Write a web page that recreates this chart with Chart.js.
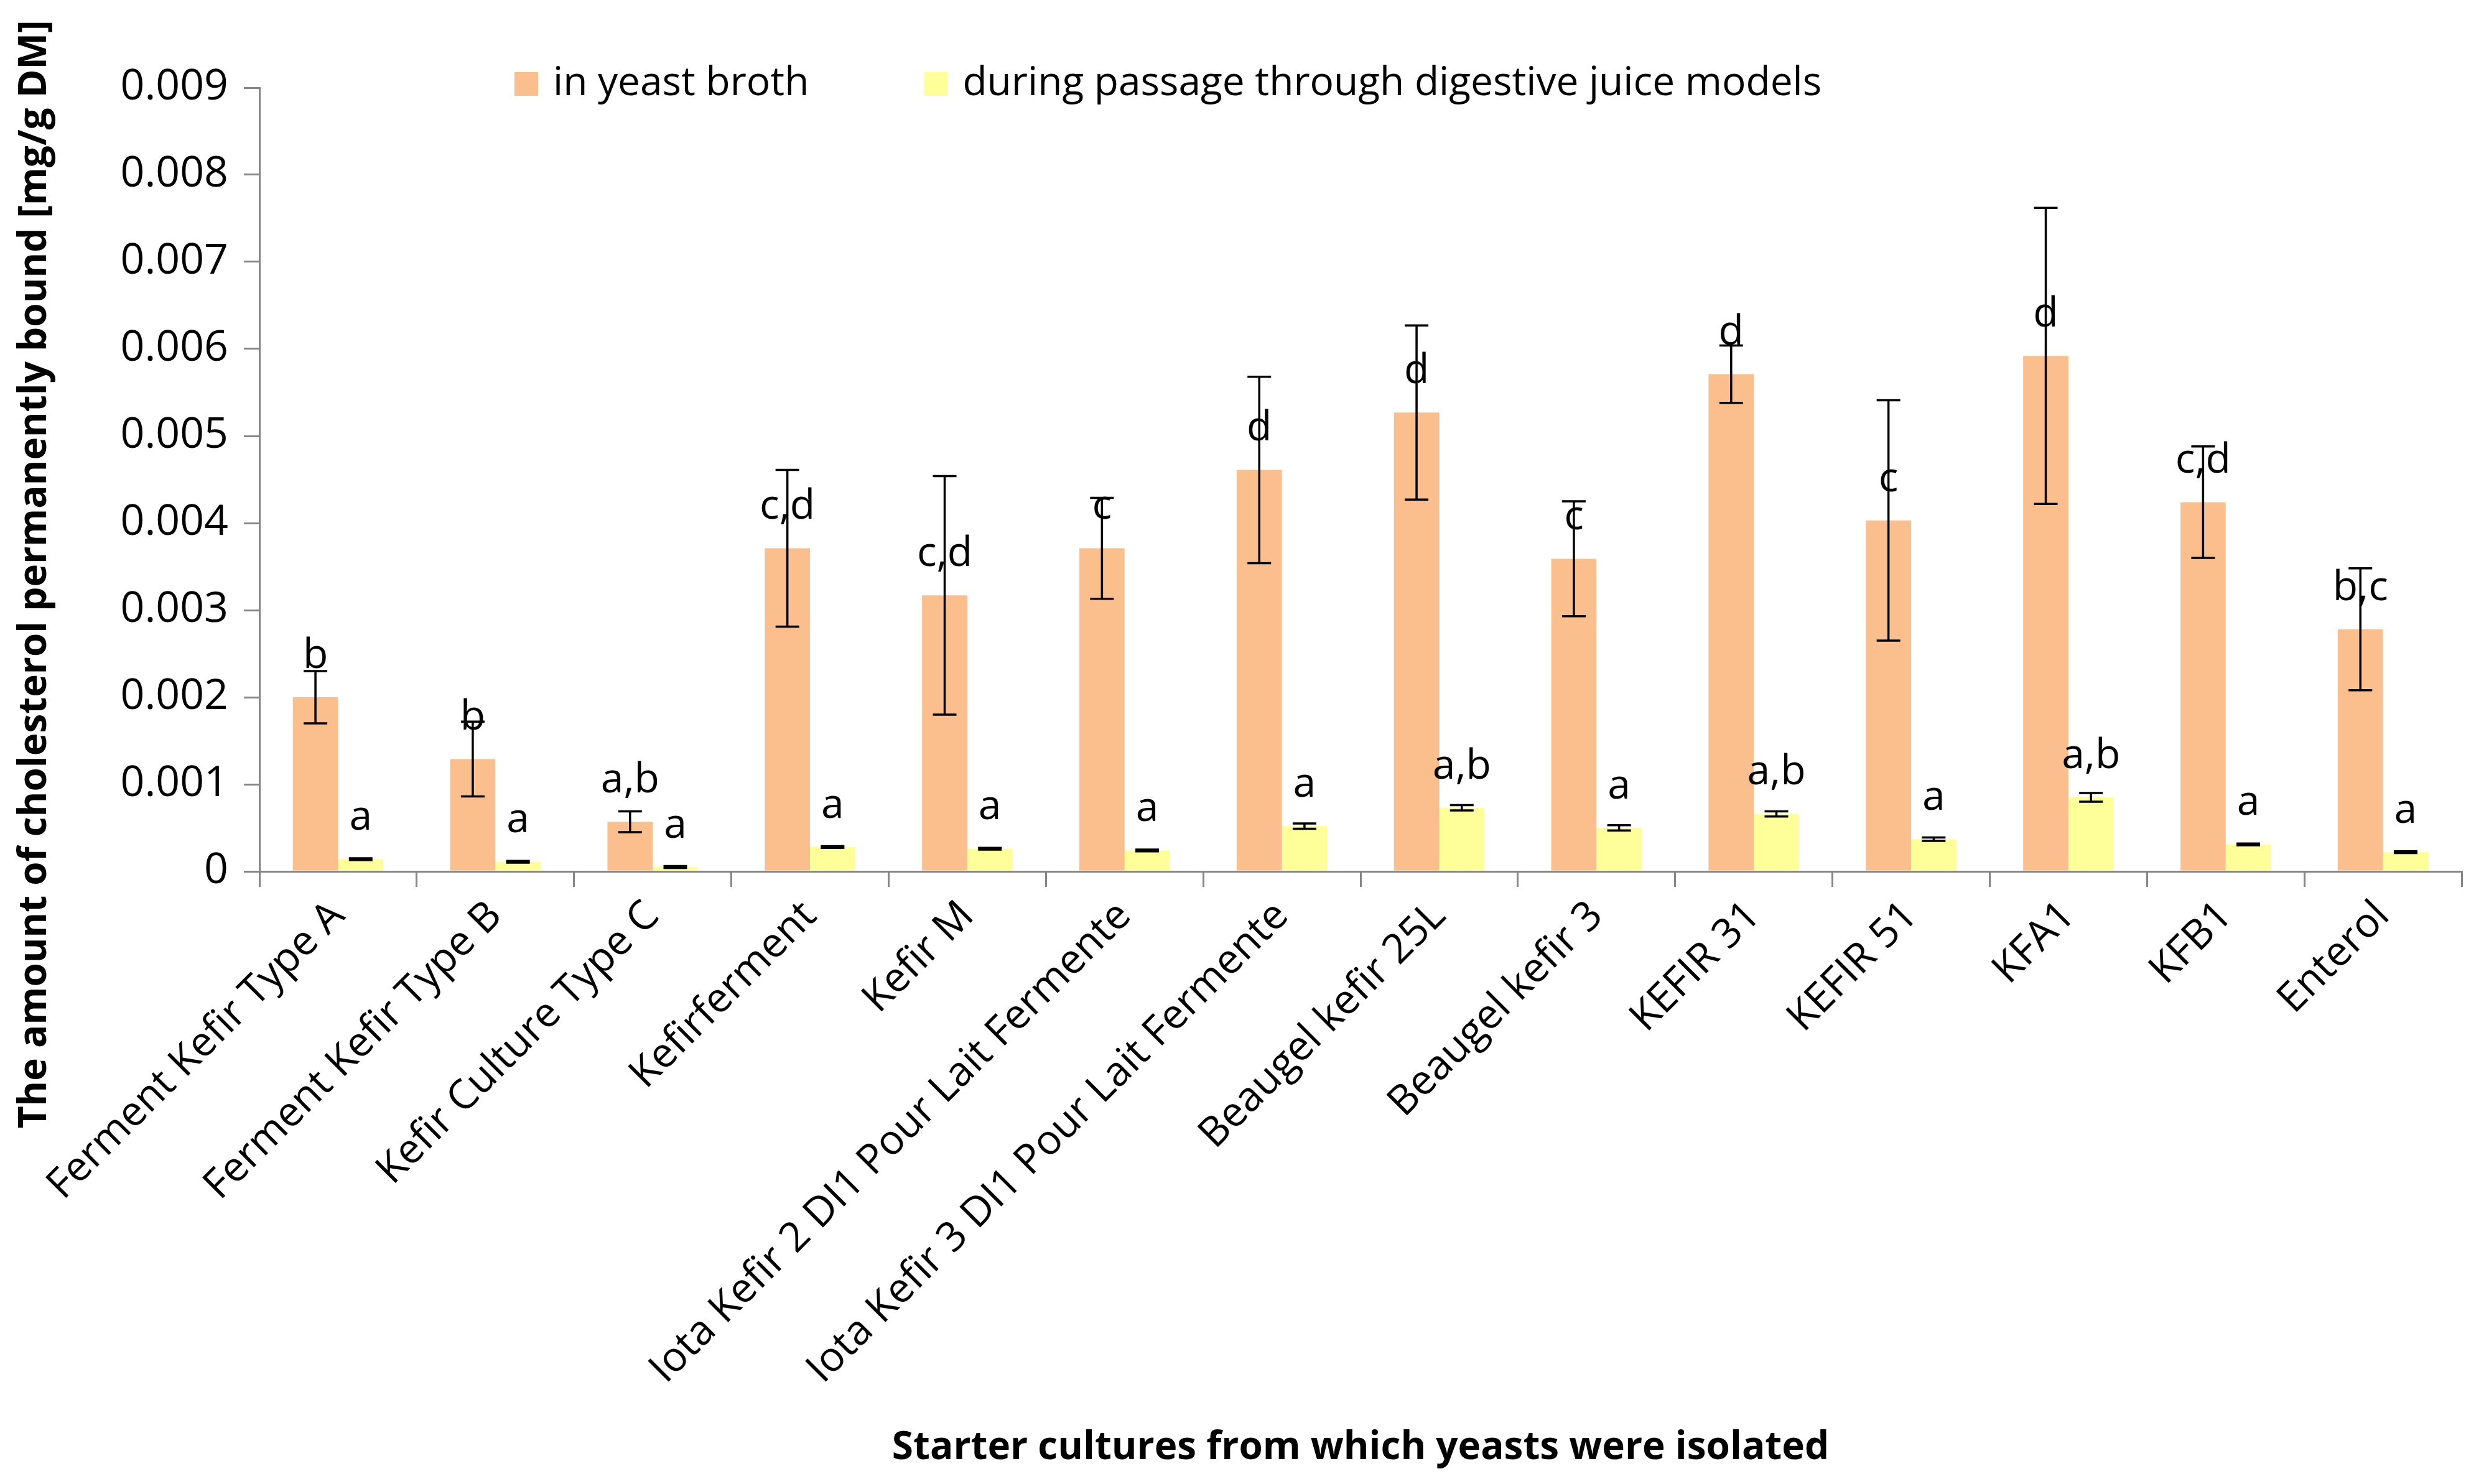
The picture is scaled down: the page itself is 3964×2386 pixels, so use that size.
<!DOCTYPE html>
<html>
<head>
<meta charset="utf-8">
<title>Cholesterol bound by kefir yeasts</title>
<script src="https://cdn.jsdelivr.net/npm/chart.js@4.4.1/dist/chart.umd.min.js"></script>
<style>
  html, body { margin: 0; padding: 0; background: #fff; }
  canvas { display: block; }
</style>
</head>
<body>
<canvas id="yeastChart" width="3964" height="2386"></canvas>
<script>
// ---------------- DATA ----------------
const categories = [
  "Ferment Kefir Type A", "Ferment Kefir Type B", "Kefir Culture Type C", "Kefirferment",
  "Kefir M", "Iota Kefir 2 DI1 Pour Lait Fermente", "Iota Kefir 3 DI1 Pour Lait Fermente",
  "Beaugel kefir 25L", "Beaugel kefir 3", "KEFIR 31", "KEFIR 51", "KFA1", "KFB1", "Enterol"
];

const seriesNames = ["in yeast broth", "during passage through digestive juice models"];

const brothValues = [0.00200, 0.00129, 0.00057, 0.00371, 0.00317, 0.00371, 0.00461,
                     0.00527, 0.00359, 0.00571, 0.00403, 0.00592, 0.00424, 0.00278];
const brothErrors = [0.00030, 0.00043, 0.00012, 0.00090, 0.00137, 0.00058, 0.00107,
                     0.00100, 0.00066, 0.00033, 0.00138, 0.00170, 0.00064, 0.00070];
const brothLetters = ["b", "b", "a,b", "c,d", "c,d", "c", "d", "d", "c", "d", "c", "d", "c,d", "b,c"];

const juiceValues = [0.00014, 0.00011, 0.00005, 0.00028, 0.00026, 0.00024, 0.00052,
                     0.00073, 0.00050, 0.00066, 0.00037, 0.00085, 0.00031, 0.00022];
const juiceErrors = [0.00001, 0.00001, 0.00001, 0.00001, 0.00001, 0.00001, 0.00003,
                     0.00003, 0.00003, 0.00003, 0.00002, 0.00005, 0.00001, 0.00001];
const juiceLetters = ["a", "a", "a", "a", "a", "a", "a", "a,b", "a", "a,b", "a", "a,b", "a", "a"];

const yTickLabels = ["0", "0.001", "0.002", "0.003", "0.004", "0.005", "0.006", "0.007", "0.008", "0.009"];

const xTitle = "Starter cultures from which yeasts were isolated";
const yTitle = "The amount of cholesterol permanently bound [mg/g DM]";

const errorSets = [brothErrors, juiceErrors];
const letterSets = [brothLetters, juiceLetters];

// ---------------- STYLE ----------------
const FONT = "'Open Sans', sans-serif";
const AXIS_GREY = "#868686";
Chart.defaults.font.family = FONT;
Chart.defaults.font.size = 66;
Chart.defaults.color = "#000";

// error bars + letters above each bar
const annotatePlugin = {
  id: "annotate",
  afterDatasetsDraw(chart) {
    const { ctx } = chart;
    const y = chart.scales.y;
    ctx.save();
    chart.data.datasets.forEach((ds, di) => {
      const meta = chart.getDatasetMeta(di);
      meta.data.forEach((bar, i) => {
        const v = ds.data[i];
        const e = errorSets[di][i];
        const yTop = y.getPixelForValue(v + e);
        const yBot = y.getPixelForValue(v - e);

        ctx.fillStyle = "#000";
        ctx.font = "66px " + FONT;
        ctx.textAlign = "center";
        ctx.textBaseline = "middle";
        ctx.fillText(letterSets[di][i], bar.x, bar.y - 66);

        ctx.strokeStyle = "#000";
        ctx.lineWidth = 3.5;
        ctx.beginPath();
        ctx.moveTo(bar.x, yTop); ctx.lineTo(bar.x, yBot);
        ctx.moveTo(bar.x - 19, yTop); ctx.lineTo(bar.x + 19, yTop);
        ctx.moveTo(bar.x - 19, yBot); ctx.lineTo(bar.x + 19, yBot);
        ctx.stroke();
      });
    });
    ctx.restore();
  },
  afterDraw(chart) {
    const { ctx, chartArea } = chart;
    ctx.save();

    // legend (sits inside the plot, level with the top tick)
    let x = chartArea.left + 410;
    const ly = chartArea.top - 6;
    ctx.font = "64px " + FONT;
    ctx.textAlign = "left";
    ctx.textBaseline = "middle";
    chart.data.datasets.forEach(ds => {
      ctx.fillStyle = ds.backgroundColor;
      ctx.fillRect(x, ly - 19, 38, 38);
      ctx.fillStyle = "#000";
      ctx.fillText(ds.label, x + 62, ly);
      x += 62 + ctx.measureText(ds.label).width + 185;
    });

    // y axis title, placed like Excel pushes it down to fit
    ctx.font = "bold 62px " + FONT;
    ctx.textAlign = "center";
    ctx.translate(56, chart.height * 0.387);
    ctx.rotate(-Math.PI / 2);
    ctx.fillText(yTitle, 0, 0);
    ctx.restore();
  }
};

// ---------------- CHART ----------------
new Chart(document.getElementById("yeastChart"), {
  type: "bar",
  data: {
    labels: categories,
    datasets: [
      { label: seriesNames[0], data: brothValues, backgroundColor: "#FBBF8D",
        categoryPercentage: 0.575, barPercentage: 1 },
      { label: seriesNames[1], data: juiceValues, backgroundColor: "#FFFF99",
        categoryPercentage: 0.575, barPercentage: 1 }
    ]
  },
  options: {
    responsive: false,
    devicePixelRatio: 1,
    animation: false,
    layout: { padding: { top: 141, right: 7, left: 0, bottom: 0 } },
    plugins: { legend: { display: false }, tooltip: { enabled: false } },
    scales: {
      x: {
        grid: { offset: true, drawOnChartArea: false, drawTicks: true, tickLength: 25,
                color: AXIS_GREY, lineWidth: 3 },
        border: { color: AXIS_GREY, width: 3 },
        ticks: { autoSkip: false, minRotation: 45, maxRotation: 45, padding: 8,
                 font: { size: 66 } },
        title: { display: true, text: xTitle, font: { size: 62, weight: "bold" },
                 padding: { top: 0, bottom: 20 } },
        afterFit(scale) { scale.height = 985; }
      },
      y: {
        min: 0, max: 0.009,
        grid: { drawOnChartArea: false, drawTicks: true, tickLength: 25,
                color: AXIS_GREY, lineWidth: 3 },
        border: { color: AXIS_GREY, width: 3 },
        ticks: { stepSize: 0.001, padding: 25, font: { size: 68 },
                 callback: (v, i) => yTickLabels[i] },
        afterFit(scale) { scale.width = 417; }
      }
    }
  },
  plugins: [annotatePlugin]
});
</script>
</body>
</html>
